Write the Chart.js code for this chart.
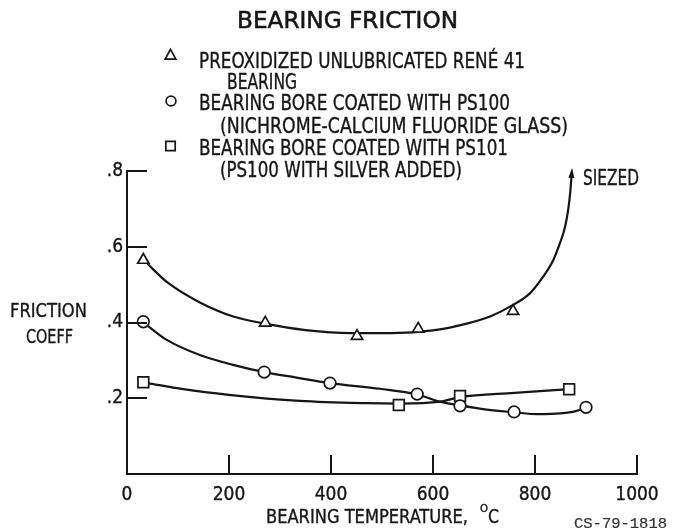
<!DOCTYPE html>
<html>
<head>
<meta charset="utf-8">
<script src="https://cdn.jsdelivr.net/npm/chart.js@4.4.1/dist/chart.umd.min.js"></script>
<style>
    html, body { margin: 0; padding: 0; background: #fff; }
    #wrap { width: 678px; height: 530px; }
</style>
</head>
<body>
<div id="wrap"><canvas id="frictionChart" width="678" height="530"></canvas></div>
<script>
// measured points (temperature in C, friction coefficient)
const triX = [32, 271, 451, 571, 757];
const triY = [0.565, 0.399, 0.364, 0.383, 0.43];
const cirX = [32, 269, 398, 569, 653, 759, 900];
const cirY = [0.402, 0.269, 0.240, 0.211, 0.180, 0.164, 0.176];
const sqX = [32, 533, 653, 867];
const sqY = [0.242, 0.182, 0.206, 0.224];

// faired curves as drawn on the figure
const triCurveX = [40, 80, 140, 210, 271, 350, 440, 520, 600, 660, 712, 751, 790, 816, 836, 849, 859, 865, 869, 872];
const triCurveY = [0.555, 0.505, 0.455, 0.415, 0.397, 0.380, 0.372, 0.372, 0.379, 0.395, 0.416, 0.442, 0.477, 0.521, 0.565, 0.610, 0.653, 0.697, 0.742, 0.795];
const cirCurveX = [40, 78, 143, 208, 269, 330, 398, 496, 569, 614, 653, 705, 759, 805, 850, 880, 900];
const cirCurveY = [0.392, 0.354, 0.314, 0.288, 0.269, 0.255, 0.240, 0.225, 0.210, 0.191, 0.181, 0.170, 0.163, 0.158, 0.160, 0.166, 0.176];
const sqCurveX = [40, 110, 200, 339, 470, 533, 614, 653, 760, 867];
const sqCurveY = [0.240, 0.224, 0.209, 0.193, 0.187, 0.186, 0.191, 0.203, 0.214, 0.224];

const xTicks = [0, 200, 400, 600, 800, 1000];
const yTicks = [0.2, 0.4, 0.6, 0.8];

const legendLines = [
    "PREOXIDIZED UNLUBRICATED RENÉ 41",
    "BEARING",
    "BEARING BORE COATED WITH PS100",
    "(NICHROME-CALCIUM FLUORIDE GLASS)",
    "BEARING BORE COATED WITH PS101",
    "(PS100 WITH SILVER ADDED)"
];

const INK = "#151515";
const FONT = '"Liberation Sans Narrow", "DejaVu Sans Condensed", "Noto Sans", sans-serif';

const pts = (xs, ys) => xs.map((x, i) => ({ x: x, y: ys[i] }));

function fitText(ctx, str, x, base, size, width, family, stroke) {
    ctx.save();
    ctx.font = size + "px " + (family || FONT);
    const w = ctx.measureText(str).width;
    ctx.translate(x, base);
    ctx.scale(width / w, 1);
    ctx.lineWidth = stroke === undefined ? 0.35 : stroke;
    ctx.lineJoin = "round";
    if (ctx.lineWidth > 0) ctx.strokeText(str, 0, 0);
    ctx.fillText(str, 0, 0);
    ctx.restore();
}

function symbol(ctx, kind, x, y, r) {
    ctx.beginPath();
    if (kind === "tri") {
        ctx.moveTo(x, y - r);
        ctx.lineTo(x + r * 0.95, y + r * 0.75);
        ctx.lineTo(x - r * 0.95, y + r * 0.75);
        ctx.closePath();
    } else if (kind === "cir") {
        ctx.arc(x, y, r, 0, Math.PI * 2);
    } else {
        ctx.rect(x - r, y - r, r * 2, r * 2);
    }
    ctx.stroke();
}

// texts, inward tick marks, arrow and legend
const decorations = {
    id: "decorations",
    afterDraw(chart) {
        const ctx = chart.ctx;
        const xs = chart.scales.x, ys = chart.scales.y;
        const area = chart.chartArea;
        ctx.save();
        ctx.strokeStyle = INK;
        ctx.fillStyle = INK;
        ctx.lineWidth = 2;

        // inward ticks
        yTicks.forEach(v => {
            const py = Math.round(ys.getPixelForValue(v));
            ctx.beginPath();
            ctx.moveTo(area.left, py);
            ctx.lineTo(area.left + 20, py);
            ctx.stroke();
        });
        xTicks.slice(1).forEach(v => {
            const px = Math.round(xs.getPixelForValue(v));
            ctx.beginPath();
            ctx.moveTo(px, area.bottom);
            ctx.lineTo(px, area.bottom - 19);
            ctx.stroke();
        });

        // arrow at the end of the triangle curve
        const meta = chart.getDatasetMeta(0).data;
        const a = meta[meta.length - 1], b = meta[meta.length - 2];
        const ang = Math.atan2(a.y - b.y, a.x - b.x);
        const c = Math.cos(ang), s = Math.sin(ang);
        ctx.beginPath();
        ctx.moveTo(a.x + c * 5, a.y + s * 5);
        ctx.lineTo(a.x - c * 5 - s * 3, a.y - s * 5 + c * 3);
        ctx.lineTo(a.x - c * 5 + s * 3, a.y - s * 5 - c * 3);
        ctx.closePath();
        ctx.fill();

        ctx.textBaseline = "alphabetic";
        ctx.textAlign = "left";
        fitText(ctx, "SIEZED", 583, 185, 21, 56);

        // title
        fitText(ctx, "BEARING FRICTION", 237, 28, 23, 221, FONT, 0.5);

        // legend
        ctx.lineWidth = 1.7;
        symbol(ctx, "tri", 170.5, 55, 5.6);
        symbol(ctx, "cir", 171, 101, 4.9);
        symbol(ctx, "sq", 170.5, 146, 4.7);
        fitText(ctx, legendLines[0], 199, 68, 21.5, 326);
        fitText(ctx, legendLines[1], 227, 89, 21.5, 70);
        fitText(ctx, legendLines[2], 199, 110, 21.5, 311);
        fitText(ctx, legendLines[3], 220, 133, 21.5, 348);
        fitText(ctx, legendLines[4], 199, 155, 21.5, 309);
        fitText(ctx, legendLines[5], 220, 177, 21.5, 242);

        // axis titles
        fitText(ctx, "FRICTION", 10, 317, 20, 77);
        fitText(ctx, "COEFF", 26, 343, 20, 47);
        fitText(ctx, "BEARING TEMPERATURE,", 266, 523, 19, 202);
        fitText(ctx, "O", 480, 512, 11, 8);
        fitText(ctx, "C", 488, 523, 19, 11);

        ctx.fillStyle = "#333";
        ctx.strokeStyle = "#333";
        fitText(ctx, "CS-79-1818", 574, 528, 14, 93, '"Liberation Mono", "DejaVu Sans Mono", monospace', 0.2);
        ctx.restore();
    }
};

const curve = (data) => ({
    data: data,
    showLine: true,
    borderColor: INK,
    borderWidth: 2.2,
    pointRadius: 0,
    cubicInterpolationMode: "monotone",
    clip: false,
    order: 2
});

const marks = (data, style, r) => ({
    data: data,
    showLine: false,
    pointStyle: style,
    pointRadius: r,
    pointBackgroundColor: "#fff",
    pointBorderColor: INK,
    pointBorderWidth: 1.7,
    order: 1
});

new Chart(document.getElementById("frictionChart").getContext("2d"), {
    type: "scatter",
    data: {
        datasets: [
            curve(pts(triCurveX, triCurveY)),
            curve(pts(cirCurveX, cirCurveY)),
            curve(pts(sqCurveX, sqCurveY)),
            marks(pts(triX, triY), "triangle", 6.5),
            marks(pts(cirX, cirY), "circle", 5.8),
            marks(pts(sqX, sqY), "rect", 7.6)
        ]
    },
    options: {
        responsive: false,
        animation: false,
        devicePixelRatio: 1,
        layout: { padding: { top: 171, right: 41, bottom: 0, left: 0 } },
        plugins: {
            legend: { display: false },
            tooltip: { enabled: false },
            title: { display: false }
        },
        scales: {
            x: {
                type: "linear",
                min: 0,
                max: 1000,
                afterBuildTicks: s => { s.ticks = xTicks.map(v => ({ value: v })); },
                afterFit: s => { s.height = 56; },
                grid: { display: false, drawTicks: false },
                border: { display: true, color: INK, width: 2 },
                ticks: {
                    color: INK,
                    textStrokeColor: INK,
                    textStrokeWidth: 0.35,
                    padding: 10,
                    maxRotation: 0,
                    autoSkip: false,
                    font: { family: FONT, size: 19 },
                    callback: v => String(v)
                }
            },
            y: {
                min: 0,
                max: 0.8,
                afterBuildTicks: s => { s.ticks = [0].concat(yTicks).map(v => ({ value: v })); },
                afterFit: s => { s.width = 127; },
                grid: { display: false, drawTicks: false },
                border: { display: true, color: INK, width: 2 },
                ticks: {
                    color: INK,
                    textStrokeColor: INK,
                    textStrokeWidth: 0.35,
                    padding: 4,
                    autoSkip: false,
                    font: { family: FONT, size: 19 },
                    callback: v => v === 0 ? "" : v.toFixed(1).replace(/^0/, "")
                }
            }
        }
    },
    plugins: [decorations]
});
</script>
</body>
</html>
